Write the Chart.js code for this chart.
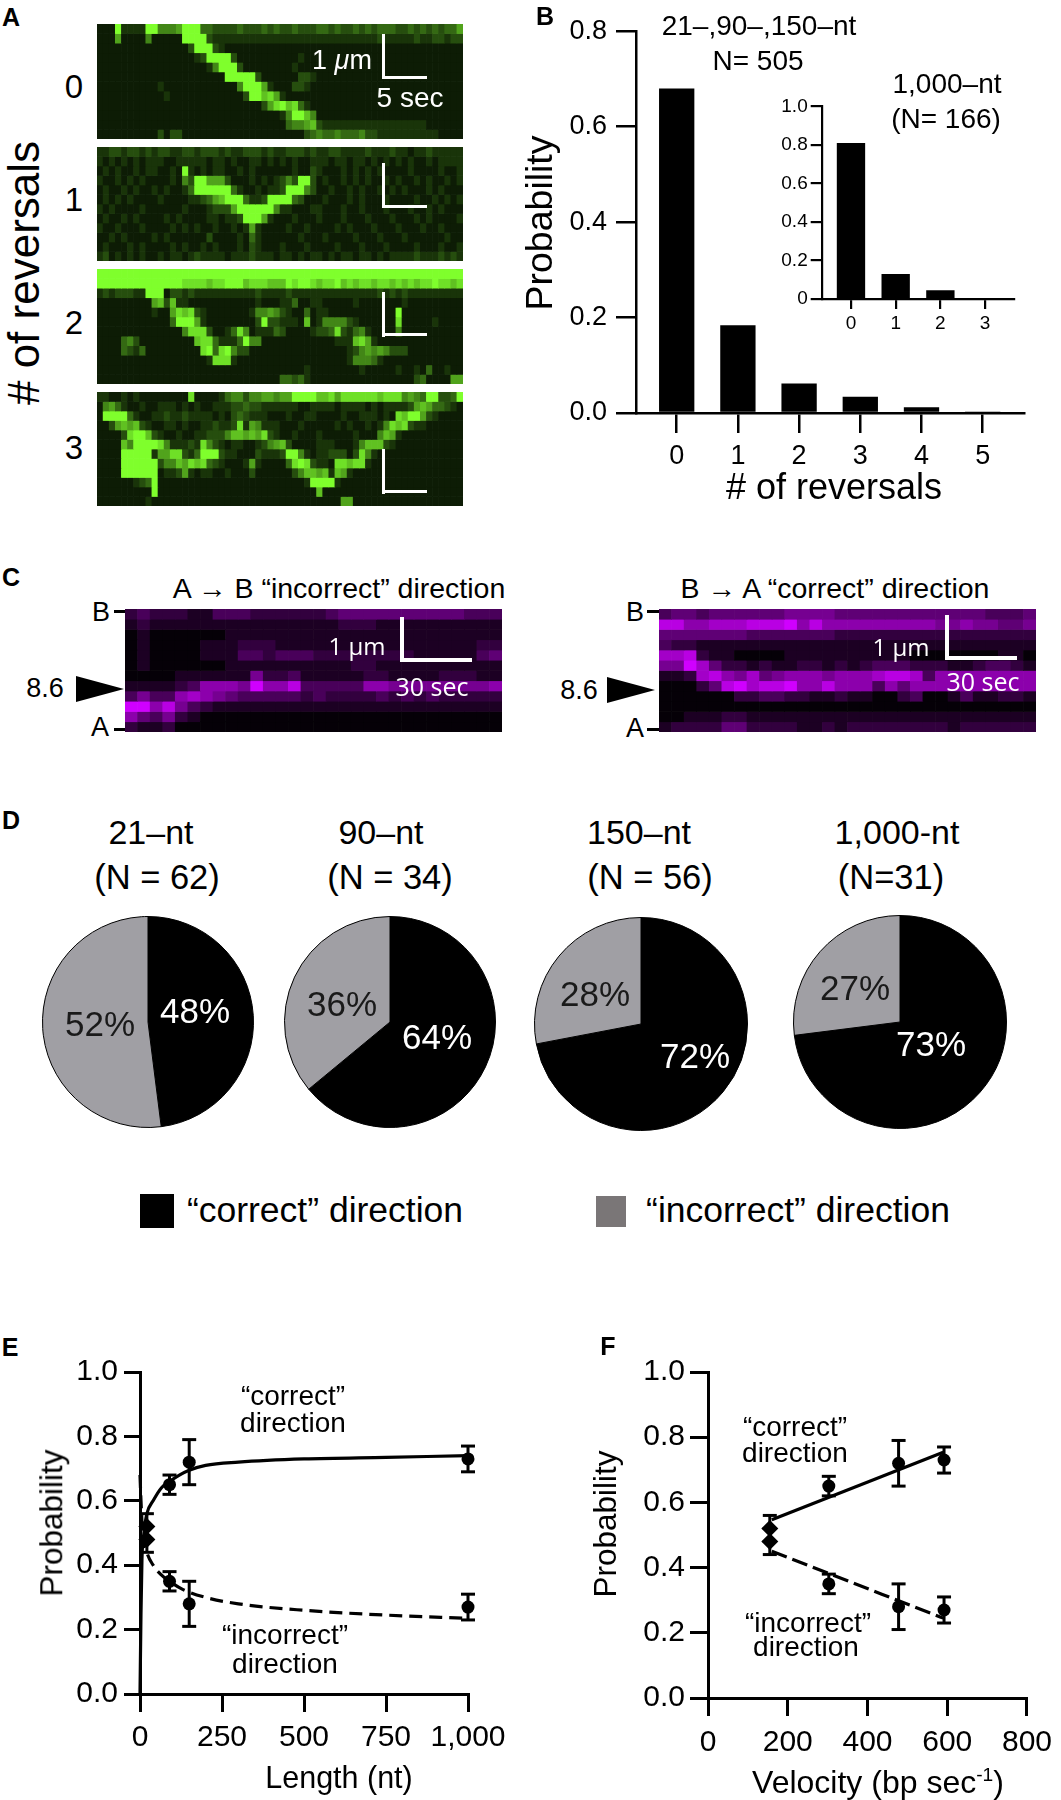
<!DOCTYPE html>
<html>
<head>
<meta charset="utf-8">
<title>Reversals</title>
<script src="https://cdn.jsdelivr.net/npm/chart.js@4"></script>
<style>
  body { margin: 0; background: #fff; }
  #page { position: relative; width: 1061px; height: 1800px; overflow: hidden; font-family: "Liberation Sans", Arial, sans-serif; color: #000; }
  canvas { position: absolute; }
  .t { position: absolute; transform: translate(-50%, -50%); line-height: 1; white-space: nowrap; }
  .b { position: absolute; }
  sup { font-size: 60%; line-height: 0; }
</style>
</head>
<body>
<div id="page"></div>
<script>
// Kymograph brightness, one string per row, one digit (0-9) per time bin
const kymo0 = [
  "1119222299 5556999443 3334333434 3343334434 3343434443 3434343446",
  "1116111151 1111999932 2222222222 2222222222 2222223222 2232233233",
  "1111111111 1111139993 2111111111 1111111111 1111111111 1111111111",
  "1111111111 1111112399 9931111111 1112111111 1111111111 1111111111",
  "1111111111 1111111125 9993111111 1121111111 1111111111 1111111111",
  "1111111111 1111111111 1999993111 1113321111 1111111111 1111111111",
  "1111111111 2111111111 1115999621 1133211111 1111111111 1111111111",
  "1111111111 1211111111 1111399786 2111111111 1111111111 1111111111",
  "1111111111 1111111111 1111111368 9784211111 1111111111 1111111111",
  "1111111111 1111111111 1111111111 2599751111 1111111111 1111111111",
  "1111111111 1111111111 1111111111 1455673222 2222222222 2222111111",
  "1111111111 3133111111 1111111111 1111345445 4445332222 2222221111"
];
const kymo1 = [
  "2233233232 3322332333 2322333232 2333232233 2222322232 2122322222",
  "2121212122 2112222212 2121122121 2121122212 2122121212 1211212222",
  "1212112122 1121921212 2112121111 1121132111 2121212111 1211112112",
  "2112121211 1121539966 6311121212 3539931211 2121211212 1121211212",
  "1211212112 1211249999 9942112122 3999531121 1212112121 2111212111",
  "1212121111 2111122346 7999422399 9943111211 1212111211 1121121212",
  "2121111211 1111211123 3369999995 2211122111 2112111211 1211212111",
  "1211212111 1212111122 1223999621 1121112111 2111211121 1121211112",
  "2112111211 1121212112 1121262111 1211211112 1211121112 1112112111",
  "1121211112 1211111131 1112142111 1112111211 1121112111 2111111211",
  "1211121211 1121211212 1112132111 2111211112 1112111211 1121112112",
  "2312121211 2122123222 2122232221 2212122121 2212212122 2232223232"
];
const kymo2 = [
  "9999999999 9999999999 9999999999 9999999999 9999999999 9999999999",
  "9999999999 9999888878 8999788877 7989987889 7878878878 7878898878",
  "2323332299 9133232222 2222223222 2322222222 2222223232 3222222222",
  "1111111116 7372211111 1111112111 2241122111 1121111111 2111111111",
  "1111111112 1168783211 1111125565 3211412211 1111111119 1111111111",
  "1111111111 1149996211 1111113933 2221712555 5321111118 1111121111",
  "1111111111 1111588831 1248512224 3111123348 3245211115 1111111111",
  "1111453111 1111117884 2224955111 1111111112 2278621111 1111111111",
  "1111432411 1111111894 8953311111 1111111111 1235656533 3111111111",
  "1111111111 1111111128 8821111111 1111111111 1255542111 1111111111",
  "1111111111 1111111111 1111111111 1111211111 1112111112 1121411211",
  "1111111111 1111111111 1111111111 4434211111 1111111111 1134111166"
];
const kymo3 = [
  "2211212111 1111181111 2455355665 6699997786 8888887888 5654993349",
  "1564211211 2221212112 2233433222 2221122221 2222121222 2367644321",
  "1999942112 2322322221 2134322211 1211221111 2112221218 7996321111",
  "1136767321 1221211223 2238265222 1112111112 1211212587 8322111111",
  "1111389973 2112112233 3577676832 1121112111 1121115762 1111111111",
  "1111759999 8522232853 2122112356 7311112221 1125777321 1111111111",
  "1111999992 6688324999 3221113222 3995212233 3138521111 1111111111",
  "1111999999 3557687843 2111262111 1489832218 8788211111 1111111111",
  "1111999999 1223621221 1211131111 1135776727 6211111111 1111111111",
  "1111112349 1111111111 1111111111 1111299992 1111111111 1111111111",
  "1111111119 1111111111 1111111111 1111117111 1111111111 1111111111",
  "1111111121 1111111111 1111111111 1111111111 6611111111 1111111111"
];
const kymoLeft = [
  "2322211333 2222223444 4444444333",
  "1211111111 1111111222 1111111111",
  "0100000011 1111111111 1111111111",
  "0100001112 2211111111 1111111122",
  "0100001113 3233322222 2221111134",
  "0100000011 1111111122 1111111111",
  "0000111111 5223111112 2111122211",
  "1111236665 9668333336 6555555556",
  "3533676543 3333232222 3232322222",
  "9968532111 1111111111 1111111111",
  "6435210000 0000000000 0000000000",
  "2112000000 0000000000 0000000000"
];
const kymoRight = [
  "3443444444 5555444444 4444443334",
  "8866777888 9686666666 6655655445",
  "4444444333 3333222222 2222222222",
  "3221111111 1111111111 1111111111",
  "7782110000 1111111111 0000000110",
  "5597422121 1221212333 2221123321",
  "1127865745 6665666788 7366666666",
  "0002489788 9668666364 6666666666",
  "0000002233 2211211002 3001311221",
  "0000000000 0000000000 0000000000",
  "0011122111 1111111111 1111111111",
  "1222244222 2112122222 2221222222"
];

// Panel B
const reversalBins = [0, 1, 2, 3, 4, 5];
const reversalProb = [0.68, 0.184, 0.062, 0.034, 0.012, 0.002];
const reversalBinsInset = [0, 1, 2, 3];
const reversalProbInset = [0.81, 0.13, 0.045, 0.002];

// Panel D
const pieCorrect = [48, 64, 72, 73];
const pieIncorrect = [52, 36, 28, 27];

// Panel E
const lengthNt = [21, 90, 150, 1000];
const correctProb = [0.52, 0.65, 0.72, 0.73];
const correctLo = [0.48, 0.62, 0.65, 0.69];
const correctHi = [0.56, 0.68, 0.79, 0.77];
const incorrectProb = [0.48, 0.35, 0.28, 0.27];
const incorrectLo = [0.44, 0.32, 0.21, 0.23];
const incorrectHi = [0.52, 0.38, 0.35, 0.31];
const fitCorrectX = [0, 3, 6, 12, 21, 40, 65, 90, 120, 150, 200, 300, 500, 750, 1000];
const fitCorrectY = [0, 0.25, 0.42, 0.5, 0.56, 0.6, 0.64, 0.66, 0.68, 0.695, 0.71, 0.72, 0.73, 0.735, 0.74];
const fitIncorrectX = [0, 3, 8, 21, 40, 65, 90, 130, 200, 300, 500, 750, 1000];
const fitIncorrectY = [0.68, 0.6, 0.5, 0.44, 0.4, 0.37, 0.35, 0.325, 0.3, 0.28, 0.26, 0.245, 0.235];

// Panel F
const velocity = [155, 303, 478, 592];
const lineVelocity = [160, 590];
const lineCorrect = [0.547, 0.754];
const lineIncorrect = [0.45, 0.245];

const page = document.getElementById("page");
Chart.defaults.font.family = '"Liberation Sans", Arial, sans-serif';
Chart.defaults.color = "#000";
Chart.defaults.animation = false;
Chart.defaults.responsive = false;
Chart.defaults.plugins.legend.display = false;
Chart.defaults.plugins.tooltip.enabled = false;

function addCanvas(left, top, width, height) {
    const c = document.createElement("canvas");
    c.width = width;
    c.height = height;
    c.style.left = left + "px";
    c.style.top = top + "px";
    page.appendChild(c);
    return c;
}

// stacked one-unit bars, so every bin of the kymograph is a bar segment
function kymograph(rows, left, top, width, height, color) {
    const clean = rows.map(r => r.replace(/ /g, ""));
    const bins = [...clean[0]].map((_, i) => i);
    new Chart(addCanvas(left, top, width, height), {
        type: "bar",
        data: {
            labels: bins,
            datasets: clean.map(r => ({
                data: bins.map(() => 1),
                backgroundColor: bins.map(i => color(Number(r[i]) / 9)),
                barPercentage: 1,
                categoryPercentage: 1
            }))
        },
        options: {
            scales: {
                x: { stacked: true, display: false },
                y: { stacked: true, display: false, reverse: true, min: 0, max: clean.length }
            }
        }
    });
}
const green = t => {
    const g = Math.pow(t, 1.15);
    return `rgb(${3 + 124 * g},${8 + 247 * g},${2 + 42 * g})`;
};
const magenta = t => `rgb(${5 + 203 * t},0,${7 + 248 * t})`;

// y axis and x axis styled alike for B, E, F
function axes(o) {
    const scale = (min, max, step, tick, pad, fit) => ({
        type: "linear",
        min: min,
        max: max,
        offset: false,
        afterFit: fit,
        border: { color: "#000", width: o.line },
        grid: { drawOnChartArea: false, offset: false, color: "#000", lineWidth: o.line, tickLength: tick },
        ticks: { stepSize: step, padding: pad, font: { size: o.font }, color: "#000", maxRotation: 0, autoSkip: false, includeBounds: false }
    });
    const x = scale(o.xMin, o.xMax, o.xStep, o.xTick, o.xPad, s => { s.height = o.xHeight; });
    const y = scale(o.yMin, o.yMax, o.yStep, o.yTick, o.yPad, s => { s.width = o.yWidth; });
    y.ticks.callback = o.yFormat || (v => v.toFixed(1));
    return { x: x, y: y };
}

function barChart(canvas, xs, ys, percent, o, padding) {
    new Chart(canvas, {
        type: "bar",
        data: { datasets: [{
            data: xs.map((x, i) => ({ x: x, y: ys[i] })),
            backgroundColor: "#000",
            barPercentage: percent,
            categoryPercentage: 1
        }] },
        options: { layout: { padding: padding }, scales: axes(o) }
    });
}

function errorBars(xs, lo, hi, capRadius, line) {
    return xs.map((x, i) => ({
        data: [{ x: x, y: lo[i] }, { x: x, y: hi[i] }],
        showLine: true,
        borderColor: "#000",
        borderWidth: line,
        pointStyle: "line",
        pointRadius: capRadius,
        pointBorderColor: "#000",
        pointBorderWidth: line,
        clip: false
    }));
}
function dots(xs, ys, radius) {
    return {
        data: xs.map((x, i) => ({ x: x, y: ys[i] })),
        pointStyle: xs.map((_, i) => i === 0 ? "rectRot" : "circle"),
        pointRadius: xs.map((_, i) => i === 0 ? radius + 2 : radius),
        pointBackgroundColor: "#000",
        pointBorderColor: "#000",
        pointBorderWidth: 0,
        clip: false
    };
}
function fitLine(xs, ys, dash) {
    return {
        data: xs.map((x, i) => ({ x: x, y: ys[i] })),
        showLine: true,
        borderColor: "#000",
        borderWidth: 3.2,
        borderDash: dash,
        cubicInterpolationMode: "monotone",
        pointRadius: 0,
        clip: false
    };
}

function label(html, x, y, size, extra) {
    const d = document.createElement("div");
    d.className = "t";
    d.innerHTML = html;
    d.style.left = x + "px";
    d.style.top = y + "px";
    d.style.fontSize = size + "px";
    Object.assign(d.style, extra || {});
    page.appendChild(d);
}
function box(x, y, w, h, color) {
    const d = document.createElement("div");
    d.className = "b";
    d.style.cssText = `left:${x}px;top:${y}px;width:${w}px;height:${h}px;background:${color}`;
    page.appendChild(d);
}
function arrowHead(x0, x1, y0, y1) {
    page.insertAdjacentHTML("beforeend",
        `<svg style="position:absolute;left:${x0}px;top:${y0}px" width="${x1 - x0}" height="${y1 - y0}">` +
        `<polygon points="0,0 ${x1 - x0},${(y1 - y0) / 2} 0,${y1 - y0}" fill="#000"/></svg>`);
}
const vertical = { transform: "translate(-50%,-50%) rotate(-90deg)" };
const bold = { fontWeight: "bold" };
const white = { color: "#fff" };

// Panel A
kymograph(kymo0, 97, 24, 366, 115, green);
kymograph(kymo1, 97, 147, 366, 114, green);
kymograph(kymo2, 97, 269, 366, 115, green);
kymograph(kymo3, 97, 392, 366, 114, green);
label("A", 11, 17, 25, bold);
label("# of reversals", 24, 273, 44, vertical);
label("0", 74, 86, 33);
label("1", 74, 199, 33);
label("2", 74, 322, 33);
label("3", 74, 447, 33);
box(382, 34, 3, 45, "#fff"); box(382, 76, 45, 3, "#fff");
box(382, 163, 3, 45, "#fff"); box(382, 205, 45, 3, "#fff");
box(382, 292, 3, 45, "#fff"); box(382, 333, 45, 3, "#fff");
box(382, 449, 3, 45, "#fff"); box(382, 490, 45, 3, "#fff");
label("1 <i>μ</i>m", 342, 60, 27, white);
label("5 sec", 410, 98, 28, white);

// Panel B
barChart(addCanvas(540, 6, 486, 477), reversalBins, reversalProb, 0.577, {
    line: 2.5, font: 27,
    xMin: -0.665, xMax: 5.675, xStep: 1, xTick: 20, xPad: 7, xHeight: 70,
    yMin: 0, yMax: 0.8, yStep: 0.2, yTick: 20, yPad: 9, yWidth: 96
}, { top: 20, right: 2 });
barChart(addCanvas(770, 92, 246, 247), reversalBinsInset, reversalProbInset, 0.634, {
    line: 2.2, font: 19,
    xMin: -0.655, xMax: 3.647, xStep: 1, xTick: 10, xPad: 3, xHeight: 40,
    yMin: 0, yMax: 1, yStep: 0.2, yTick: 11, yPad: 3, yWidth: 51.7,
    yFormat: v => v === 0 ? "0" : v.toFixed(1)
}, { top: 12, right: 2 });
label("B", 545, 16, 25, bold);
label("Probability", 540, 223, 37.5, vertical);
label("# of reversals", 834, 487, 36);
label("21–,90–,150–nt", 759, 26, 28);
label("N= 505", 758, 61, 28);
label("1,000–nt", 947, 84, 28);
label("(N= 166)", 946, 119, 28);

// Panel C
kymograph(kymoLeft, 125, 609, 377, 123, magenta);
kymograph(kymoRight, 659, 609, 377, 123, magenta);
label("C", 11, 577, 25, bold);
label("A → B “incorrect” direction", 339, 588, 28.5);
label("B → A “correct” direction", 835, 588, 28.5);
label("B", 101, 612, 27);
label("A", 100, 727, 27);
box(114, 610, 11, 2.5, "#000");
box(114, 728, 11, 2.5, "#000");
label("B", 635, 612, 27);
label("A", 635, 728, 27);
box(647, 610, 12, 2.5, "#000");
box(647, 728, 12, 2.5, "#000");
label("8.6", 45, 688, 27);
label("8.6", 579, 690, 27);
arrowHead(76, 124, 676, 702);
arrowHead(607, 655, 677, 703);
const opensans = { color: "#fff", fontFamily: '"Open Sans", sans-serif' };
box(400, 617, 4, 45, "#fff"); box(400, 658, 72, 4, "#fff");
box(945, 615, 4, 45, "#fff"); box(945, 656, 72, 4, "#fff");
label("1 μm", 357, 646, 24, opensans);
label("30 sec", 432, 686, 25, opensans);
label("1 μm", 901, 647, 24, opensans);
label("30 sec", 983, 681, 25, opensans);

// Panel D
const pieCx = [148, 390, 641, 900];
const pieCy = [1022, 1022, 1024, 1022];
const pieR = [105, 105, 106, 106];
pieCorrect.forEach((v, i) => {
    const r = pieR[i];
    new Chart(addCanvas(pieCx[i] - r - 1, pieCy[i] - r - 1, 2 * r + 2, 2 * r + 2), {
        type: "pie",
        data: {
            labels: ["“correct” direction", "“incorrect” direction"],
            datasets: [{ data: [v, pieIncorrect[i]], backgroundColor: ["#000", "#a09fa4"], borderColor: "#000", borderWidth: 1 }]
        }
    });
});
label("D", 11, 820, 25, bold);
label("21–nt", 151, 832, 34);
label("(N = 62)", 157, 877, 34.5);
label("90–nt", 381, 832, 34);
label("(N = 34)", 390, 877, 34.5);
label("150–nt", 639, 832, 34);
label("(N = 56)", 650, 877, 34.5);
label("1,000-nt", 897, 832, 34);
label("(N=31)", 891, 877, 34.5);
const dark = { color: "#1a1a1a" };
label("48%", 195, 1010, 35, white);
label("52%", 100, 1023, 35, dark);
label("36%", 342, 1003, 35, dark);
label("64%", 437, 1036, 35, white);
label("28%", 595, 993, 35, dark);
label("72%", 695, 1055, 35, white);
label("27%", 855, 987, 35, dark);
label("73%", 931, 1043, 35, white);
box(140, 1194, 34, 34, "#000");
label("“correct” direction", 325, 1211, 35.5);
box(596, 1196, 30, 31, "#7a7677");
label("“incorrect” direction", 798, 1211, 35.5);

// Panel E
new Chart(addCanvas(40, 1348, 474, 416), {
    type: "scatter",
    data: { datasets: [
        fitLine(fitCorrectX, fitCorrectY, []),
        fitLine(fitIncorrectX, fitIncorrectY, [13, 7]),
        ...errorBars(lengthNt, correctLo, correctHi, 7, 3),
        ...errorBars(lengthNt, incorrectLo, incorrectHi, 7, 3),
        dots(lengthNt, correctProb, 6.5),
        dots(lengthNt, incorrectProb, 6.5)
    ] },
    options: { layout: { padding: { top: 20, right: 46 } }, scales: axes({
        line: 3, font: 30,
        xMin: 0, xMax: 1000, xStep: 250, xTick: 18, xPad: 8, xHeight: 70,
        yMin: 0, yMax: 1, yStep: 0.2, yTick: 16, yPad: 6, yWidth: 100
    }) }
});
label("E", 10, 1347, 25, bold);
label("Probability", 52, 1523, 31.5, vertical);
label("Length (nt)", 339, 1777, 30.5);
label("“correct”", 293, 1396, 28);
label("direction", 293, 1423, 28);
label("“incorrect”", 285, 1635, 28);
label("direction", 285, 1664, 28);

// Panel F
new Chart(addCanvas(600, 1349, 461, 429), {
    type: "scatter",
    data: { datasets: [
        fitLine(lineVelocity, lineCorrect, []),
        fitLine(lineVelocity, lineIncorrect, [16, 6]),
        ...errorBars(velocity, correctLo, correctHi, 7, 3),
        ...errorBars(velocity, incorrectLo, incorrectHi, 7, 3),
        dots(velocity, correctProb, 6.5),
        dots(velocity, incorrectProb, 6.5)
    ] },
    options: { layout: { padding: { top: 20, right: 25 } }, scales: axes({
        line: 3, font: 30,
        xMin: 0, xMax: 800, xStep: 200, xTick: 18, xPad: 9, xHeight: 80,
        yMin: 0, yMax: 1, yStep: 0.2, yTick: 18, yPad: 5, yWidth: 108
    }) }
});
label("F", 608, 1346, 25, bold);
label("Probability", 606, 1524, 31.5, vertical);
label("Velocity (bp sec<sup>-1</sup>)", 878, 1782, 32);
label("“correct”", 795, 1427, 28);
label("direction", 795, 1453, 28);
label("“incorrect”", 808, 1623, 28);
label("direction", 806, 1647, 28);
</script>
</body>
</html>
